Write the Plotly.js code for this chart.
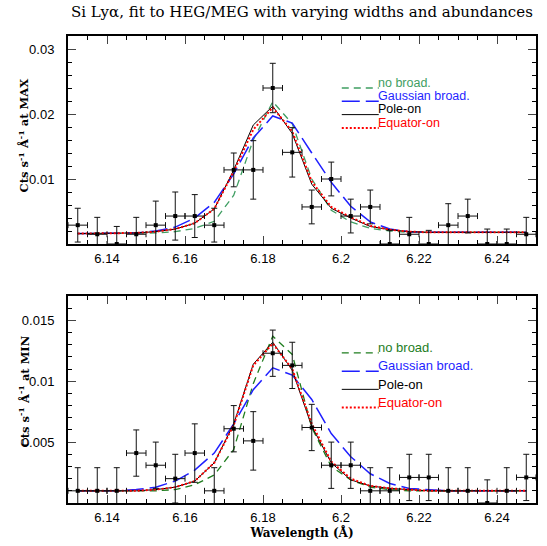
<!DOCTYPE html>
<html>
<head>
<meta charset="utf-8">
<script src="https://cdn.plot.ly/plotly-3.0.1.min.js"></script>
<style>html,body{margin:0;padding:0;background:#fff;}#chart{width:547px;height:546px;}</style>
</head>
<body>
<div id="chart"></div>
<script>
// Bin centres (Å)
const wavelength = [6.1325, 6.1375, 6.1425, 6.1475, 6.1525, 6.1575, 6.1625, 6.1675, 6.1725, 6.1775, 6.1825, 6.1875,
                    6.1925, 6.1975, 6.2025, 6.2075, 6.2125, 6.2175, 6.2225, 6.2275, 6.2325, 6.2375, 6.2425, 6.2475];

// Top panel (at MAX): observed data
const maxData = [0.0029, 0.0015, 0.0, 0.0015, 0.0029, 0.0043, 0.0043, 0.0029, 0.0114, 0.0114, 0.0240, 0.0141,
                 0.0057, 0.0100, 0.0043, 0.0057, 0.0, 0.0015, 0.0, 0.0029, 0.0043, 0.0, 0.0, 0.0015];
const maxErr  = [0.0026, 0.0026, 0.0027, 0.0026, 0.0037, 0.0037, 0.0033, 0.0026, 0.0026, 0.0045, 0.0038, 0.0038,
                 0.0026, 0.0026, 0.0026, 0.0026, 0.0021, 0.0026, 0.0021, 0.0033, 0.0026, 0.0023, 0.0023, 0.0026];
// Top panel models
const maxNoBroad  = [0.0016, 0.0016, 0.0016, 0.0016, 0.0017, 0.0019, 0.0024, 0.0035, 0.0075, 0.0160, 0.0219, 0.0185,
                     0.0100, 0.0052, 0.0034, 0.0024, 0.0020, 0.0018, 0.0018, 0.0018, 0.0018, 0.0018, 0.0018, 0.0018];
const maxGauss    = [0.0016, 0.0016, 0.0016, 0.0017, 0.0020, 0.0026, 0.0040, 0.0064, 0.0108, 0.0163, 0.0197, 0.0186,
                     0.0140, 0.0095, 0.0058, 0.0034, 0.0023, 0.0019, 0.0018, 0.0018, 0.0018, 0.0018, 0.0018, 0.0018];
const maxPole     = [0.0016, 0.0016, 0.0016, 0.0017, 0.0019, 0.0023, 0.0032, 0.0054, 0.0114, 0.0183, 0.0212, 0.0170,
                     0.0092, 0.0055, 0.0040, 0.0027, 0.0022, 0.0019, 0.0018, 0.0018, 0.0018, 0.0018, 0.0018, 0.0018];
const maxEquator  = [0.0016, 0.0016, 0.0016, 0.0017, 0.0019, 0.0023, 0.0032, 0.0054, 0.0112, 0.0176, 0.0210, 0.0173,
                     0.0096, 0.0057, 0.0041, 0.0028, 0.0022, 0.0019, 0.0018, 0.0018, 0.0018, 0.0018, 0.0018, 0.0018];

// Bottom panel (at MIN): observed data
const minData = [0.0010, 0.0010, 0.0010, 0.0041, 0.0031, 0.0020, 0.0041, 0.0010, 0.0061, 0.0051, 0.0123, 0.0113,
                 0.0062, 0.0031, 0.0031, 0.0010, 0.0010, 0.0021, 0.0021, 0.0010, 0.0010, 0.0, 0.0010, 0.0021];
const minErr  = [0.0019, 0.0019, 0.0019, 0.0019, 0.0019, 0.0020, 0.0024, 0.0019, 0.0019, 0.0024, 0.0019, 0.0019,
                 0.0019, 0.0019, 0.0019, 0.0019, 0.0019, 0.0019, 0.0019, 0.0019, 0.0019, 0.0019, 0.0019, 0.0019];
// Bottom panel models
const minNoBroad  = [0.0010, 0.0010, 0.0010, 0.0010, 0.0010, 0.0011, 0.0015, 0.0023, 0.0044, 0.0098, 0.0137, 0.0122,
                     0.0062, 0.0030, 0.0019, 0.0013, 0.0011, 0.0010, 0.0010, 0.0010, 0.0010, 0.0010, 0.0010, 0.0010];
const minGauss    = [0.0010, 0.0010, 0.0010, 0.0011, 0.0013, 0.0018, 0.0027, 0.0041, 0.0065, 0.0093, 0.0111, 0.0105,
                     0.0085, 0.0057, 0.0038, 0.0024, 0.0016, 0.0012, 0.0011, 0.0010, 0.0010, 0.0010, 0.0010, 0.0010];
const minPole     = [0.0010, 0.0010, 0.0010, 0.0010, 0.0011, 0.0013, 0.0018, 0.0033, 0.0065, 0.0114, 0.0132, 0.0109,
                     0.0063, 0.0033, 0.0019, 0.0014, 0.0012, 0.0011, 0.0010, 0.0010, 0.0010, 0.0010, 0.0010, 0.0010];
const minEquator  = [0.0010, 0.0010, 0.0010, 0.0010, 0.0011, 0.0013, 0.0018, 0.0033, 0.0064, 0.0113, 0.0131, 0.0110,
                     0.0065, 0.0034, 0.0020, 0.0014, 0.0012, 0.0011, 0.0010, 0.0010, 0.0010, 0.0010, 0.0010, 0.0010];

const modelNames = ['no broad.', 'Gaussian broad.', 'Pole-on', 'Equator-on'];
const binHalfWidth = 0.0025;

const greenTop = '#3f9e62', greenBot = '#1e7d1e', blueC = '#1f1fff', blackC = '#000000', redC = '#ff0000';

function modelTrace(y, color, dash, width, xa, ya) {
  return {x: wavelength, y: y, type: 'scatter', mode: 'lines', xaxis: xa, yaxis: ya,
          line: {color: color, dash: dash, width: width}, showlegend: false, hoverinfo: 'skip'};
}
function dataTrace(y, err, xa, ya) {
  return {x: wavelength, y: y, type: 'scatter', mode: 'markers', xaxis: xa, yaxis: ya,
          marker: {symbol: 'square', size: 4, color: '#000'},
          error_y: {type: 'data', array: err, visible: true, color: '#111', thickness: 1, width: 3},
          error_x: {type: 'constant', value: binHalfWidth, visible: true, color: '#111', thickness: 1, width: 3},
          showlegend: false};
}

const traces = [
  modelTrace(maxNoBroad, greenTop, '7px,5px', 1.3, 'x', 'y'),
  modelTrace(maxGauss, blueC, '18px,6px', 1.5, 'x', 'y'),
  modelTrace(maxPole, blackC, 'solid', 1, 'x', 'y'),
  modelTrace(maxEquator, redC, '2px,2px', 2, 'x', 'y'),
  dataTrace(maxData, maxErr, 'x', 'y'),
  modelTrace(minNoBroad, greenBot, '7px,5px', 1.3, 'x2', 'y2'),
  modelTrace(minGauss, blueC, '18px,6px', 1.5, 'x2', 'y2'),
  modelTrace(minPole, blackC, 'solid', 1, 'x2', 'y2'),
  modelTrace(minEquator, redC, '2px,2px', 2, 'x2', 'y2'),
  dataTrace(minData, minErr, 'x2', 'y2')
];

const tickFont = {family: 'Liberation Sans, Arial, sans-serif', size: 13, color: '#000'};
function xAxis(anchor) {
  return {anchor: anchor, range: [6.13, 6.25], dtick: 0.02, ticks: 'inside', ticklen: 8, tickwidth: 1,
          minor: {dtick: 0.005, ticks: 'inside', ticklen: 4, tickwidth: 1, tickcolor: '#000'},
          showline: true, linewidth: 2, linecolor: '#000', mirror: 'allticks', showgrid: false, zeroline: false,
          tickfont: tickFont, ticklabelstandoff: 1};
}
function yAxis(anchor, domain, range, dtick, minorDtick, vals) {
  return {anchor: anchor, domain: domain, range: range, tickvals: vals, ticks: 'inside', ticklen: 8, tickwidth: 1,
          minor: {dtick: minorDtick, ticks: 'inside', ticklen: 4, tickwidth: 1, tickcolor: '#000'},
          showline: true, linewidth: 2, linecolor: '#000', mirror: 'allticks', showgrid: false, zeroline: false,
          tickfont: tickFont, ticklabelstandoff: 9};
}

const legendColorsTop = [greenTop, blueC, blackC, redC];
const legendColorsBot = [greenBot, blueC, blackC, redC];
const legendDash = ['7px,5px', '18px,6px', 'solid', '2px,2px'];
const legendWidth = [1.3, 1.5, 1, 2];

const annotations = [];
const shapes = [];
function addLegend(xref, yref, yTop, step, colors, fs) {
  modelNames.forEach((name, i) => {
    const yy = yTop - i * step;
    annotations.push({xref: xref + ' domain', yref: yref + ' domain', x: 0.66, y: yy, xanchor: 'left', yanchor: 'middle',
                      text: name, showarrow: false, borderpad: 0,
                      font: {family: 'Liberation Sans, Arial, sans-serif', size: fs, color: colors[i]}});
    shapes.push({type: 'line', xref: xref + ' domain', yref: yref + ' domain', x0: 0.585, x1: 0.664, y0: yy - 0.025, y1: yy - 0.025,
                 line: {color: colors[i], dash: legendDash[i], width: legendWidth[i]}});
  });
}
addLegend('x', 'y', 0.775, 0.064, legendColorsTop, 12.5);
addLegend('x2', 'y2', 0.75, 0.088, legendColorsBot, 13);

const serifBold = {family: 'DejaVu Serif, serif', size: 11.5, color: '#000'};
annotations.push({xref: 'paper', yref: 'paper', x: -0.095, y: 0.786, textangle: -90, showarrow: false, xanchor: 'center', yanchor: 'middle',
                  text: '<b>Cts s<sup>-1</sup> Å<sup>-1</sup> at MAX</b>', font: serifBold});
annotations.push({xref: 'paper', yref: 'paper', x: -0.095, y: 0.238, textangle: -90, showarrow: false, xanchor: 'center', yanchor: 'middle',
                  text: '<b>Cts s<sup>-1</sup> Å<sup>-1</sup> at MIN</b>', font: serifBold});

const layout = {
  width: 547, height: 546,
  margin: {l: 68, r: 11, t: 36, b: 43},
  paper_bgcolor: '#fff', plot_bgcolor: '#fff',
  showlegend: false,
  title: {text: 'Si Lyα, fit to HEG/MEG with varying widths and abundances', x: 0.552, xanchor: 'center', y: 0.978, yanchor: 'middle',
          font: {family: 'DejaVu Serif, serif', size: 15, color: '#000'}},
  xaxis: xAxis('y'),
  xaxis2: Object.assign(xAxis('y2'), {title: {text: '<b>Wavelength (Å)</b>', font: {family: 'DejaVu Serif, serif', size: 12, color: '#000'}, standoff: 0}}),
  yaxis: yAxis('x', [0.5546, 1], [0, 0.032], 0.01, 0.002, [0.01, 0.02, 0.03]),
  yaxis2: yAxis('x2', [0, 0.4433], [0, 0.017], 0.005, 0.001, [0.005, 0.01, 0.015]),
  annotations: annotations,
  shapes: shapes
};

Plotly.newPlot('chart', traces, layout, {displayModeBar: false, staticPlot: true});
</script>
</body>
</html>
